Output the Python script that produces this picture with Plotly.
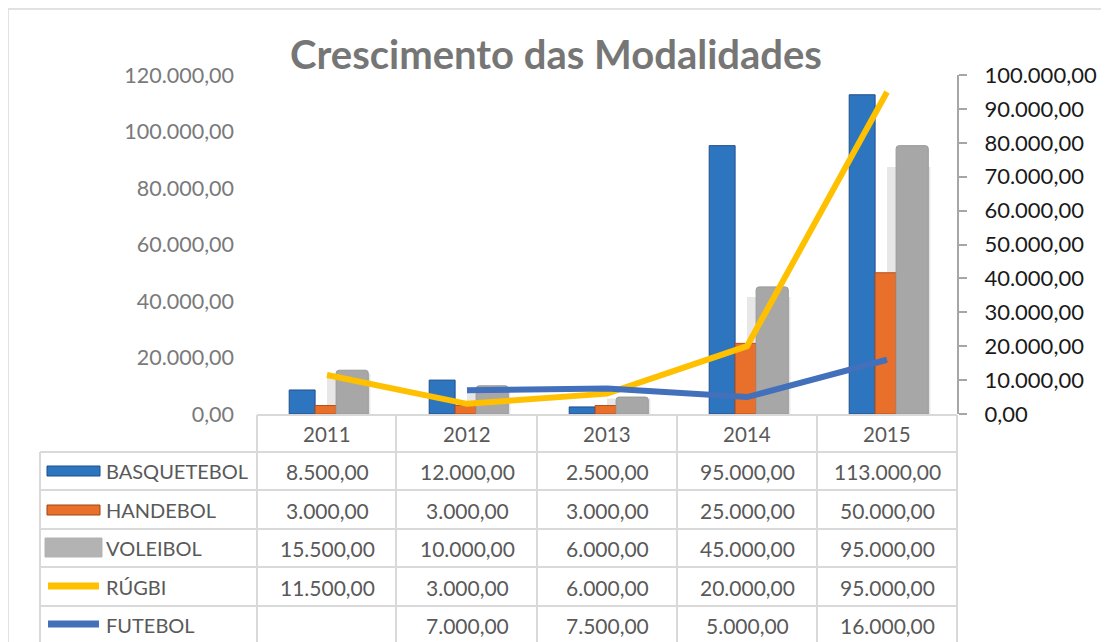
import plotly.graph_objects as go

years = ["2011", "2012", "2013", "2014", "2015"]
basquetebol = [8500, 12000, 2500, 95000, 113000]
handebol = [3000, 3000, 3000, 25000, 50000]
voleibol = [15500, 10000, 6000, 45000, 95000]
rugbi = [11500, 3000, 6000, 20000, 95000]
futebol = [None, 7000, 7500, 5000, 16000]

left_ticks = [0, 20000, 40000, 60000, 80000, 100000, 120000]
right_ticks = [0, 10000, 20000, 30000, 40000, 50000, 60000, 70000, 80000, 90000, 100000]

series_names = ["BASQUETEBOL", "HANDEBOL", "VOLEIBOL", "RÚGBI", "FUTEBOL"]


def fmt(v):
    if v is None:
        return ""
    s = f"{v:,.2f}"
    return s.replace(",", "X").replace(".", ",").replace("X", ".")


FONT = "Lato"
GRAY = "#595959"
OFF = 8  # page body margin
W, H = 1109 - OFF, 642 - OFF
L, R, T, B = 257, 957, 75, 414  # plot area in window pixels

fig = go.Figure()

# soft shadow behind volleyball bars
fig.add_trace(go.Bar(x=years, y=[v * 0.92 for v in voleibol], offset=0.0, width=0.31,
                     marker=dict(color="rgba(60,60,60,0.12)", line=dict(width=0)),
                     hoverinfo="skip", showlegend=False))

fig.add_trace(go.Bar(x=years, y=basquetebol, name="BASQUETEBOL", offset=-0.27, width=0.185,
                     marker=dict(color="#2E75C0", line=dict(color="#1F4E8C", width=1))))
fig.add_trace(go.Bar(x=years, y=handebol, name="HANDEBOL", offset=-0.085, width=0.15,
                     marker=dict(color="#E8702A", line=dict(color="#B5501A", width=1))))
fig.add_trace(go.Bar(x=years, y=voleibol, name="VOLEIBOL", offset=0.065, width=0.23,
                     marker=dict(color="#A7A7A7", line=dict(color="#9A9A9A", width=1), cornerradius=3)))
fig.add_trace(go.Scatter(x=years, y=rugbi, name="RÚGBI", mode="lines", yaxis="y2",
                         line=dict(color="#FFC000", width=6)))
fig.add_trace(go.Scatter(x=years, y=futebol, name="FUTEBOL", mode="lines", yaxis="y2",
                         line=dict(color="#4270BA", width=6)))

fig.update_layout(
    width=W, height=H,
    margin=dict(l=L - OFF, r=W - (R - OFF), t=T - OFF, b=H - (B - OFF)),
    paper_bgcolor="white", plot_bgcolor="white",
    showlegend=False,
    barmode="overlay",
    font=dict(family=FONT, color=GRAY),
    title=dict(text="<b>Crescimento das Modalidades</b>", x=(556 - OFF) / W, xanchor="center",
               y=1 - (55 - OFF) / H, yanchor="middle",
               font=dict(family=FONT, size=40, color="#767676")),
    xaxis=dict(type="category", range=[-0.5, 4.5], showticklabels=False, ticks="",
               showgrid=False, zeroline=False, showline=False),
    yaxis=dict(range=[0, 120000], tickvals=left_ticks, ticktext=[fmt(v) for v in left_ticks],
               showgrid=False, zeroline=False, showline=False, ticks="",
               ticklabelstandoff=22, tickfont=dict(size=21.5, color="#7A7A7A")),
    yaxis2=dict(range=[0, 100000], overlaying="y", side="right",
                tickvals=right_ticks, ticktext=[fmt(v) for v in right_ticks],
                showgrid=False, zeroline=False, showline=True, linecolor="#A6A6A6", linewidth=2,
                ticks="outside", ticklen=8, tickcolor="#A6A6A6", tickwidth=2,
                ticklabelstandoff=13, tickfont=dict(size=22, color="#1A1A1A")),
)


def px(xp):
    return (xp - L) / (R - L)


def py(yp):
    return (B - yp) / (B - T)


shapes = []
annotations = []
LC = "#D9D9D9"
# outer border
shapes.append(dict(type="rect", xref="paper", yref="paper", x0=px(8), x1=px(1106), y0=py(9), y1=py(660),
                   line=dict(color="#D9D9D9", width=1.5), layer="below"))

row_lines = [415, 452, 490, 529, 567, 606]
col_lines = [257, 396, 537, 677, 817, 957]
shapes.append(dict(type="line", xref="paper", yref="paper", x0=px(257), x1=px(957),
                   y0=py(row_lines[0]), y1=py(row_lines[0]), line=dict(color=LC, width=2)))
for yl in row_lines[1:]:
    shapes.append(dict(type="line", xref="paper", yref="paper", x0=px(40), x1=px(957),
                       y0=py(yl), y1=py(yl), line=dict(color=LC, width=2)))
for xl in col_lines:
    shapes.append(dict(type="line", xref="paper", yref="paper", x0=px(xl), x1=px(xl),
                       y0=py(415), y1=py(660), line=dict(color=LC, width=2)))
shapes.append(dict(type="line", xref="paper", yref="paper", x0=px(40), x1=px(40),
                   y0=py(452), y1=py(660), line=dict(color=LC, width=2)))

# year header
for i, yr in enumerate(years):
    annotations.append(dict(x=i, xref="x", y=py(434), yref="paper", text=yr, showarrow=False,
                            font=dict(size=20.5, color=GRAY), xanchor="center", yanchor="middle"))

row_centers = [471, 510, 548, 587, 625]
data_rows = [basquetebol, handebol, voleibol, rugbi, futebol]
for r, (name, vals) in enumerate(zip(series_names, data_rows)):
    yc = py(row_centers[r])
    annotations.append(dict(x=px(104), xref="paper", y=yc, yref="paper", text=name, showarrow=False,
                            font=dict(size=20, color=GRAY), xanchor="left", yanchor="middle"))
    for i, v in enumerate(vals):
        annotations.append(dict(x=i, xref="x", y=yc, yref="paper", text=fmt(v), showarrow=False,
                                font=dict(size=21, color=GRAY), xanchor="center", yanchor="middle"))

# legend keys
shapes.append(dict(type="rect", xref="paper", yref="paper", x0=px(47), x1=px(100),
                   y0=py(476), y1=py(466), fillcolor="#2E75C0", line=dict(color="#1F4E8C", width=1)))
shapes.append(dict(type="rect", xref="paper", yref="paper", x0=px(47), x1=px(100),
                   y0=py(515), y1=py(505), fillcolor="#E8702A", line=dict(color="#9E4414", width=1)))
shapes.append(dict(type="rect", xref="paper", yref="paper", x0=px(45), x1=px(102),
                   y0=py(557), y1=py(538), fillcolor="#B3B3B3", line=dict(color="#B3B3B3", width=1)))
shapes.append(dict(type="line", xref="paper", yref="paper", x0=px(48), x1=px(99),
                   y0=py(586), y1=py(586), line=dict(color="#FFC000", width=7)))
shapes.append(dict(type="line", xref="paper", yref="paper", x0=px(48), x1=px(99),
                   y0=py(624), y1=py(624), line=dict(color="#4270BA", width=7)))

fig.update_layout(shapes=shapes, annotations=annotations)
fig.write_html("out.html")
